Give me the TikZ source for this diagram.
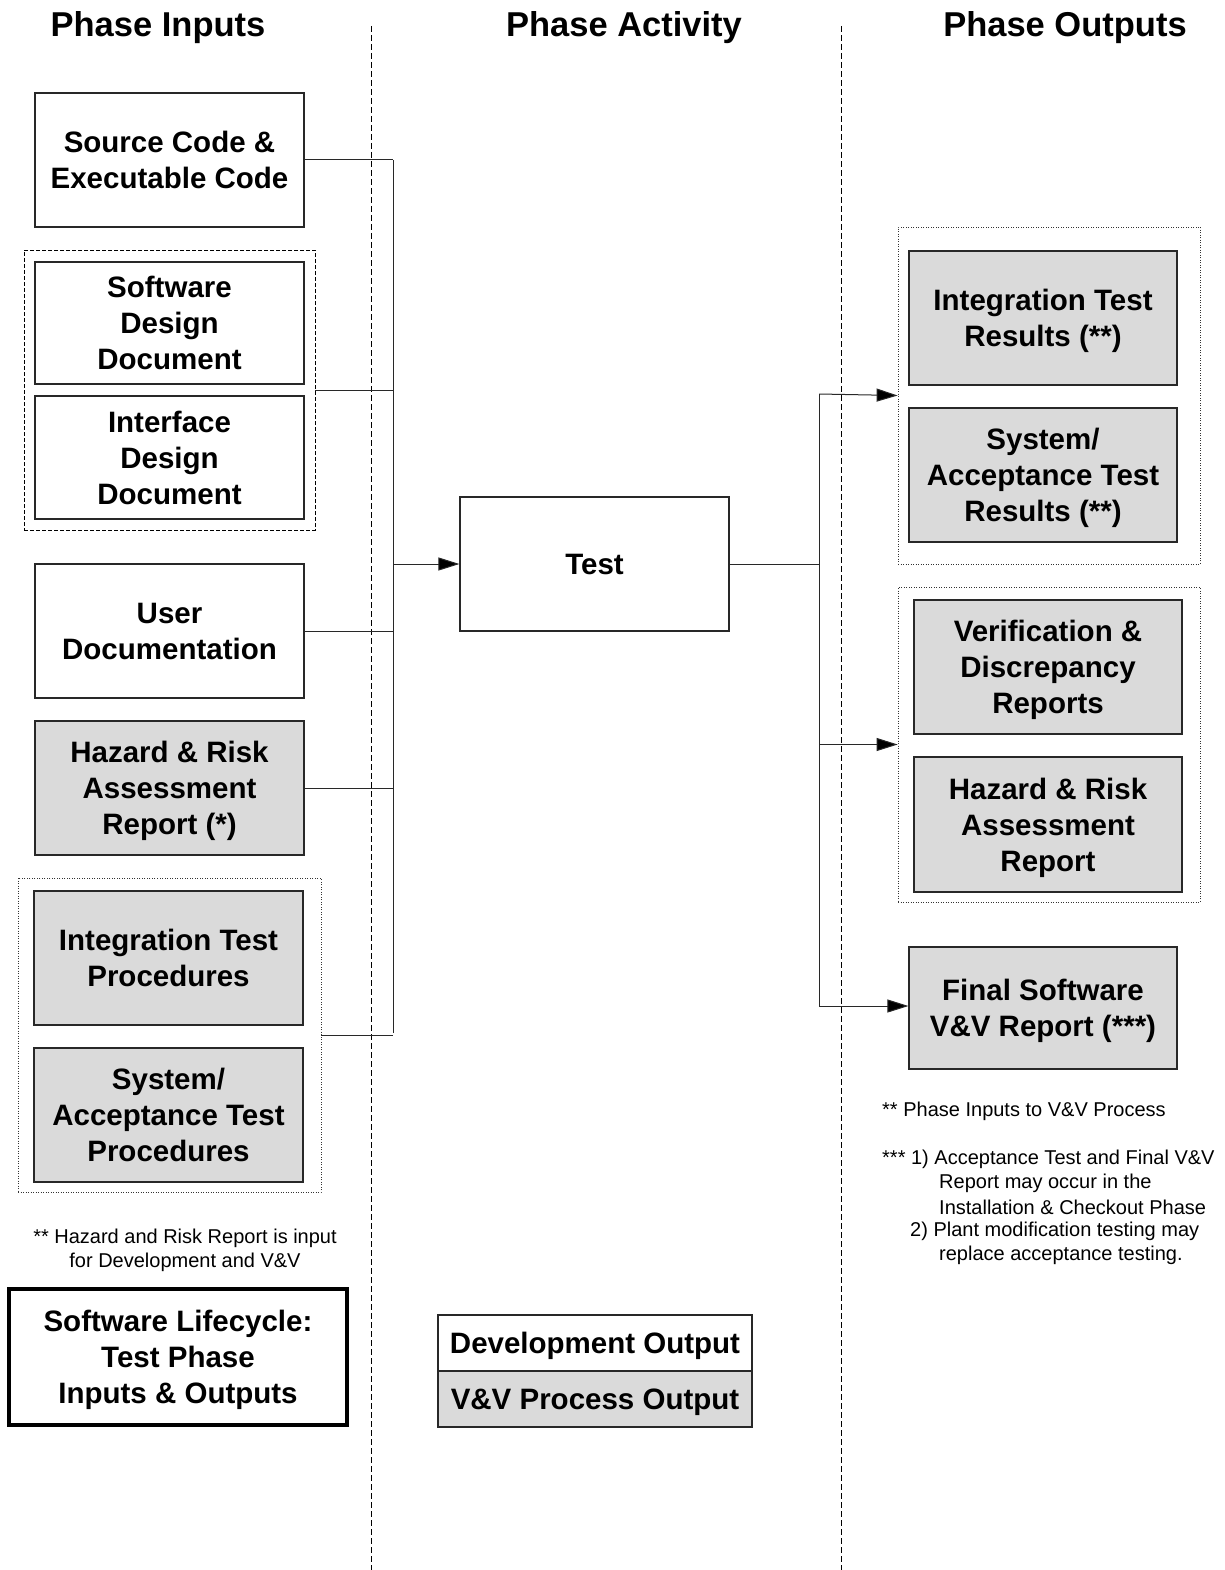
\documentclass[tikz,border=0pt]{standalone}
\usepackage{fontspec}
\setmainfont{Liberation Sans}
\usetikzlibrary{arrows.meta}
\definecolor{vvgray}{RGB}{218,218,218}
\definecolor{edge}{RGB}{40,40,40}
\begin{document}
\begin{tikzpicture}[x=1pt,y=-1pt,
  boxfont/.style={font=\bfseries\fontsize{29.5}{36}\selectfont},
  devbox/.style={boxfont, draw=edge, line width=1.2pt, fill=white, align=center,
    inner sep=0pt, minimum width=269pt, minimum height=134pt, text depth=0pt},
  vvbox/.style={devbox, fill=vvgray},
  dashgroup/.style={draw=black, line width=0.8pt, dash pattern=on 4pt off 2pt, inner sep=0pt},
  dotgroup/.style={draw=black!80, line width=0.8pt, dash pattern=on 1pt off 1.5pt, inner sep=0pt},
  heading/.style={font=\bfseries\fontsize{34.5}{40}\selectfont},
  note/.style={font=\fontsize{20}{24}\selectfont, inner sep=0pt},
  phaseline/.style={line width=0.8pt, dash pattern=on 6pt off 3pt},
  link/.style={line width=1pt, draw=edge},
  arrowlink/.style={link, -{Triangle[length=21pt,width=13pt,fill=black]}}
]
\useasboundingbox (0,0) rectangle (1224,1570);

% phase separators
\coordinate (sepA top) at (371,26);
\coordinate (sepA bot) at (371,1570);
\coordinate (sepB top) at (841,26);
\coordinate (sepB bot) at (841,1570);
\draw[phaseline] (sepA top) -- (sepA bot);
\draw[phaseline] (sepB top) -- (sepB bot);

% column headings
\node[heading] (hIn)  at (158,28) {Phase Inputs};
\node[heading] (hAct) at (624,28) {Phase Activity};
\node[heading] (hOut) at (1065,28) {Phase Outputs};

% inputs
\node[devbox] (src) at (169.5,160) {Source Code \&\\Executable Code};
\node[dashgroup, minimum width=291pt, minimum height=280pt] (dgrp) at (169.5,390) {};
\node[devbox, minimum height=122pt] (sdd) at (169.5,323) {Software\\Design\\Document};
\node[devbox, minimum height=123pt] (idd) at (169.5,457.5) {Interface\\Design\\Document};
\node[devbox] (udoc) at (169.5,631) {User\\Documentation};
\node[vvbox] (hra) at (169.5,788) {Hazard \& Risk\\Assessment\\Report (*)};
\node[dotgroup, minimum width=303pt, minimum height=314pt] (tgrp) at (169.5,1035) {};
\node[vvbox] (itp) at (168.5,958) {Integration Test\\Procedures};
\node[vvbox] (satp) at (168.5,1115) {System/\\Acceptance Test\\Procedures};

% activity
\node[devbox] (test) at (594.5,564) {Test};

% outputs
\node[dotgroup, minimum width=302pt, minimum height=337pt] (rgrp) at (1049,395.5) {};
\node[vvbox, minimum width=268pt] (itr) at (1043,318) {Integration Test\\Results (**)};
\node[vvbox, minimum width=268pt] (satr) at (1043,475) {System/\\Acceptance Test\\Results (**)};
\node[dotgroup, minimum width=302pt, minimum height=315pt] (vgrp) at (1049,744.5) {};
\node[vvbox, minimum width=268pt] (vdr) at (1048,667) {Verification \&\\Discrepancy\\Reports};
\node[vvbox, minimum width=268pt, minimum height=135pt] (hrr) at (1048,824.5) {Hazard \& Risk\\Assessment\\Report};
\node[vvbox, minimum width=268pt, minimum height=122pt] (fvv) at (1043,1008) {Final Software\\V\&V Report (***)};

% input bus into the activity
\coordinate (busx) at (393,0);
\coordinate (bus top) at (393,160);
\coordinate (bus bot) at (393,1033);
\coordinate (bus mid) at (393,564);
\draw[link] (bus top) -- (bus bot);
\draw[link] (src.east) -- (src.east -| busx);
\draw[link] (dgrp.east) -- (dgrp.east -| busx);
\draw[link] (udoc.east) -- (udoc.east -| busx);
\draw[link] (hra.east) -- (hra.east -| busx);
\draw[link] (tgrp.east) -- (tgrp.east -| busx);
\draw[arrowlink] (bus mid) -- (test.west);

% output bus from the activity
\coordinate (obusx) at (819,0);
\coordinate (obus top) at (819,394);
\coordinate (obus bot) at (819,1006);
\draw[link] (test.east) -- (test.east -| obusx);
\draw[link] (obus top) -- (obus bot);
\draw[arrowlink] (obus top) -- (rgrp.west);
\draw[arrowlink] (vgrp.west -| obusx) -- (vgrp.west);
\draw[arrowlink] (obus bot) -- (obus bot -| fvv.west);

% notes
\node[note, align=center] (noteL) at (185,1250) {** Hazard and Risk Report is input\\for Development and V\&V};
\node[note, anchor=west] (noteR1) at (882,1111) {** Phase Inputs to V\&V Process};
\node[note, anchor=west] (noteR2) at (882,1159) {*** 1) Acceptance Test and Final V\&V};
\node[note, anchor=west] (noteR3) at (939,1183) {Report may occur in the};
\node[note, anchor=west] (noteR4) at (939,1207) {Installation \& Checkout Phase};
\node[note, anchor=west] (noteR5) at (910,1231) {2) Plant modification testing may};
\node[note, anchor=west] (noteR6) at (939,1255) {replace acceptance testing.};

% title
\node[boxfont, draw=black, line width=4pt, align=center, inner sep=0pt, text depth=0pt,
  minimum width=338pt, minimum height=136pt] (title) at (178,1357)
  {Software Lifecycle:\\Test Phase\\Inputs \& Outputs};

% legend
\node[devbox, minimum width=314pt, minimum height=56pt] (legDev) at (595,1343) {Development Output};
\node[vvbox, minimum width=314pt, minimum height=56pt] (legVV) at (595,1399) {V\&V Process Output};
\end{tikzpicture}
\end{document}
